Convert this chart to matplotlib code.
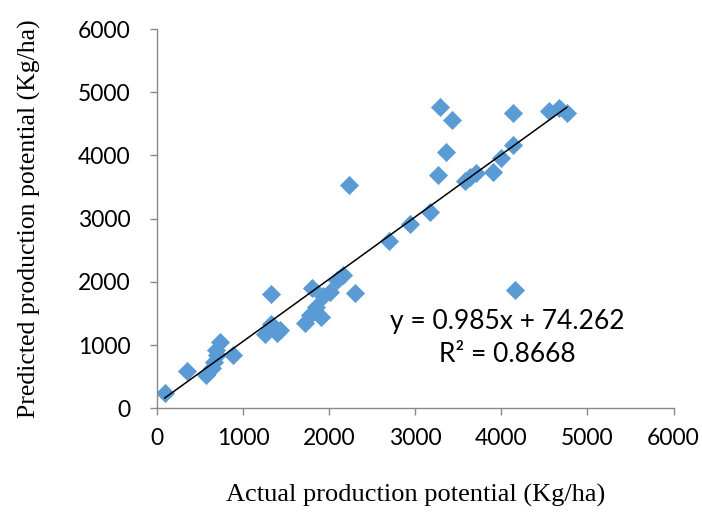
import matplotlib.pyplot as plt
import numpy as np

# actual vs predicted production potential (Kg/ha)
actual = np.array([90, 345, 570, 640, 660, 700, 680, 730, 880,
                   1260, 1320, 1390, 1430, 1330,
                   1720, 1780, 1850, 1910, 1800, 1930, 2010, 2090, 2160, 2300, 2230,
                   2700, 2940, 3170, 3260, 3360, 3290, 3430,
                   3580, 3640, 3700, 3900, 3990, 4140, 4140, 4160,
                   4550, 4670, 4760])
predicted = np.array([250, 595, 530, 640, 740, 850, 930, 1050, 850,
                      1180, 1330, 1190, 1240, 1810,
                      1350, 1480, 1610, 1450, 1900, 1770, 1845, 2030, 2110, 1820, 3540,
                      2650, 2920, 3110, 3690, 4050, 4760, 4560,
                      3590, 3665, 3720, 3745, 3960, 4170, 4680, 1870,
                      4700, 4750, 4680])

# trendline shown on the chart
slope = 0.985
intercept = 74.262
r2 = 0.8668

fig = plt.figure(figsize=(7.02, 5.12), dpi=100)
ax = fig.add_axes([0.2236, 0.2025, 0.7359, 0.7407])

ax.scatter(actual, predicted, marker='D', s=95, color='#5B9BD5', linewidths=0, zorder=2)

xs = np.array([actual.min(), actual.max()])
ax.plot(xs, slope * xs + intercept, color='black', linewidth=1.1, zorder=3)

ax.set_xlim(0, 6000)
ax.set_ylim(0, 6000)
ax.set_xticks(np.arange(0, 6001, 1000))
ax.set_yticks(np.arange(0, 6001, 1000))

for side in ['top', 'right']:
    ax.spines[side].set_visible(False)
for side in ['left', 'bottom']:
    ax.spines[side].set_color('#898989')
    ax.spines[side].set_linewidth(1.0)

ax.tick_params(axis='both', direction='out', length=5, width=1.0, color='#898989',
               labelsize=16.5)
ax.tick_params(axis='x', pad=9)
ax.tick_params(axis='y', pad=14)
for lab in ax.get_xticklabels() + ax.get_yticklabels():
    lab.set_family('Lato')

ax.set_xlabel('Actual production potential (Kg/ha)', family='Liberation Serif',
              fontsize=19)
ax.set_ylabel('Predicted production potential (Kg/ha)', family='Liberation Serif',
              fontsize=18.5)
ax.xaxis.set_label_coords(0.5, -0.2)
ax.yaxis.set_label_coords(-0.225, 0.5)

ax.text(0.6775, 0.186, 'y = 0.985x + 74.262\nR² = 0.8668', transform=ax.transAxes,
        ha='center', va='center', multialignment='center', family='Lato',
        fontsize=19, linespacing=1.4)

plt.savefig('out.png', dpi=100)
